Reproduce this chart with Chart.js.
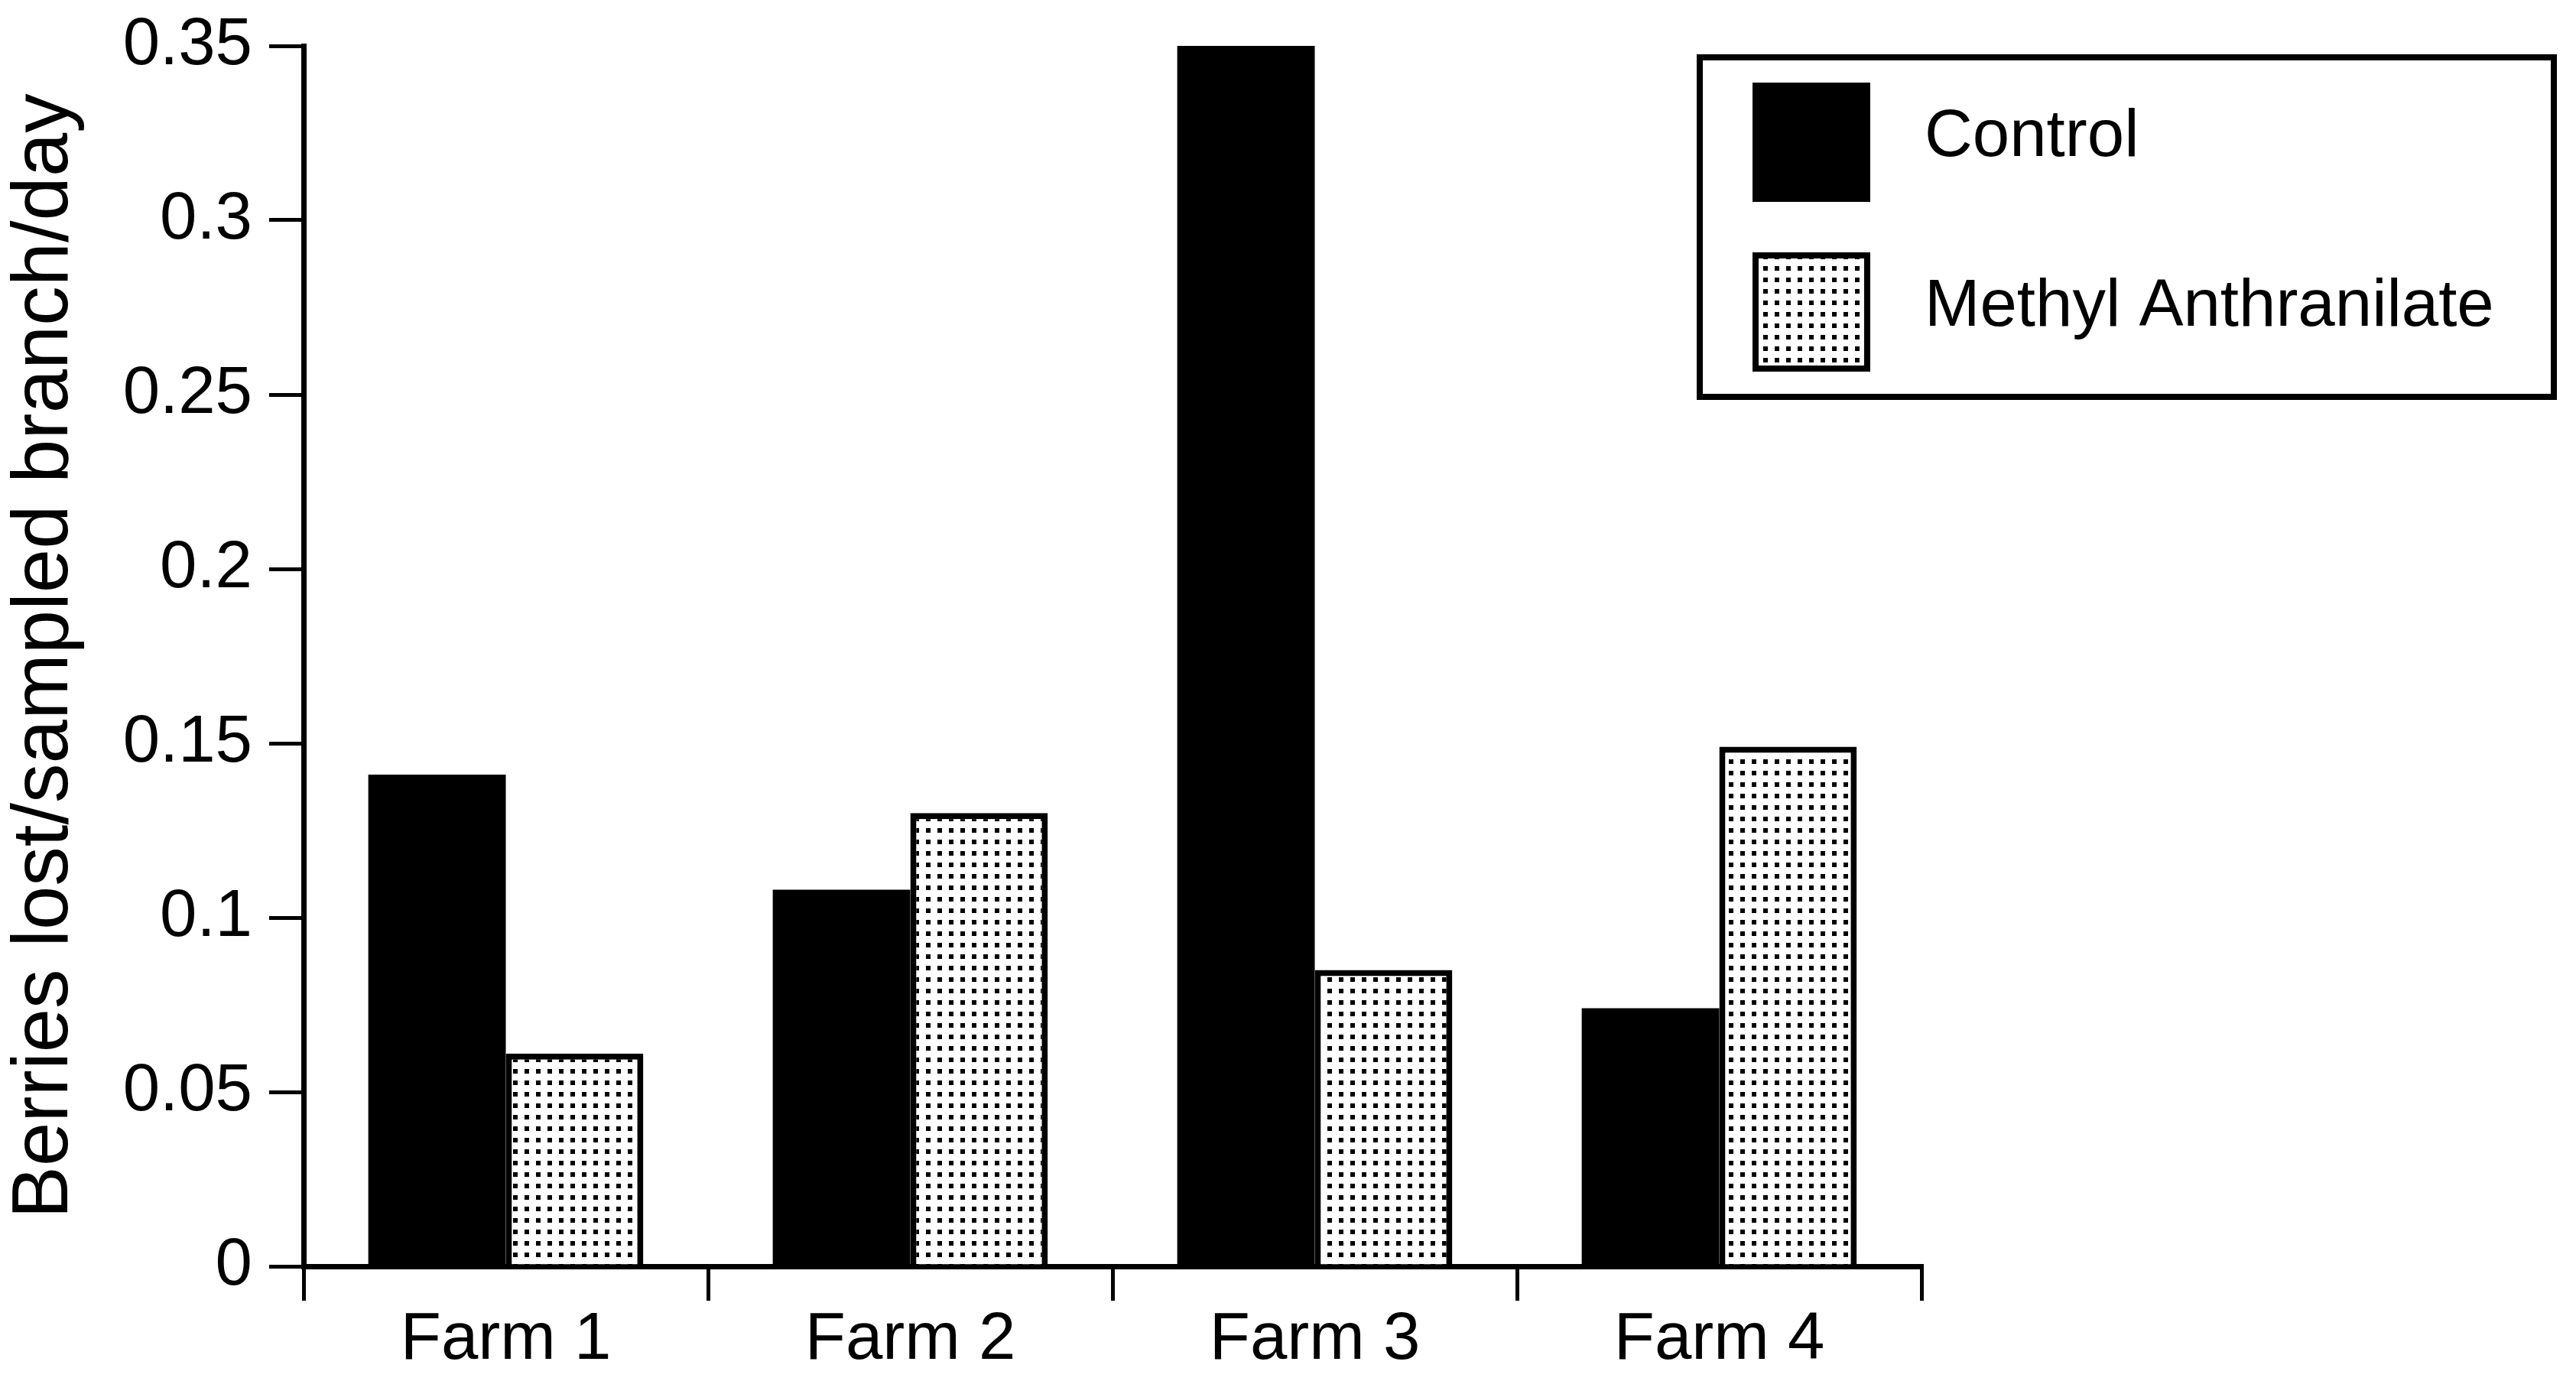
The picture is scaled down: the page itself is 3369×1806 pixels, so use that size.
<!DOCTYPE html>
<html>
<head>
<meta charset="utf-8">
<script src="https://cdn.jsdelivr.net/npm/chart.js@4.4.1/dist/chart.umd.min.js"></script>
<style>
    html, body { margin: 0; padding: 0; background: #fff; overflow: hidden; }
    canvas { display: block; }
</style>
</head>
<body>
<canvas id="chart1" width="3369" height="1806"></canvas>
<script>
var categories = ['Farm 1', 'Farm 2', 'Farm 3', 'Farm 4'];
var seriesNames = ['Control', 'Methyl Anthranilate'];
var controlValues = [0.141, 0.108, 0.350, 0.074];
var methylValues = [0.061, 0.130, 0.085, 0.149];
var yTickLabels = ['0', '0.05', '0.1', '0.15', '0.2', '0.25', '0.3', '0.35'];
var yTitle = 'Berries lost/sampled branch/day';

// dotted fill used for the Methyl Anthranilate bars
function makeDots() {
    var c = document.createElement('canvas');
    c.width = 15;
    c.height = 15;
    var g = c.getContext('2d');
    g.fillStyle = '#fff';
    g.fillRect(0, 0, 15, 15);
    g.fillStyle = '#000';
    g.fillRect(11, 3, 4, 6);
    g.fillRect(0, 3, 2, 6);
    return document.getElementById('chart1').getContext('2d').createPattern(c, 'repeat');
}

var dots = makeDots();

// boxed legend on the upper right
var boxLegend = {
    id: 'boxLegend',
    afterDraw: function(chart) {
        var ctx = chart.ctx;
        var sets = chart.data.datasets;
        ctx.save();
        ctx.strokeStyle = '#000';
        ctx.lineWidth = 8;
        ctx.strokeRect(2223, 75, 1117, 444);

        var rows = [108, 330];
        for (var i = 0; i < sets.length; i++) {
            var y = rows[i];
            ctx.fillStyle = sets[i].backgroundColor;
            ctx.fillRect(2292, y, 154, 156);
            if (sets[i].borderWidth) {
                ctx.lineWidth = sets[i].borderWidth;
                ctx.strokeRect(2296, y + 4, 146, 148);
            }
            ctx.fillStyle = '#000';
            ctx.font = '87px "Liberation Sans", Arial, sans-serif';
            ctx.textBaseline = 'middle';
            ctx.textAlign = 'left';
            ctx.fillText(sets[i].label, 2517, y + 72);
        }
        ctx.restore();
    }
};

Chart.defaults.font.family = '"Liberation Sans", Arial, sans-serif';
Chart.defaults.color = '#000';

var ctx1 = document.getElementById('chart1').getContext('2d');
var chart1 = new Chart(ctx1, {
    type: 'bar',
    data: {
        labels: categories,
        datasets: [{
            label: seriesNames[0],
            data: controlValues,
            backgroundColor: '#000',
            borderWidth: 0
        }, {
            label: seriesNames[1],
            data: methylValues,
            backgroundColor: dots,
            borderColor: '#000',
            borderWidth: 8
        }]
    },
    options: {
        responsive: false,
        animation: false,
        devicePixelRatio: 1,
        categoryPercentage: 0.68,
        barPercentage: 1.0,
        layout: {
            padding: { left: 0, right: 856, top: 60, bottom: 0 }
        },
        plugins: {
            legend: { display: false },
            tooltip: { enabled: false }
        },
        scales: {
            x: {
                afterFit: function(scale) { scale.height = 150; },
                grid: {
                    offset: true,
                    drawOnChartArea: false,
                    tickLength: 45,
                    lineWidth: 5,
                    color: '#000'
                },
                border: { display: true, width: 7, color: '#000' },
                ticks: {
                    padding: 0,
                    color: '#000',
                    font: { size: 87 }
                }
            },
            y: {
                min: 0,
                max: 0.35,
                afterFit: function(scale) {
                    scale.width = 397;
                    scale.paddingTop = 0;
                    scale.paddingBottom = 0;
                },
                grid: {
                    drawOnChartArea: false,
                    tickLength: 45,
                    lineWidth: 5,
                    color: '#000'
                },
                border: { display: true, width: 7, color: '#000' },
                ticks: {
                    stepSize: 0.05,
                    padding: 22,
                    color: '#000',
                    font: { size: 87 },
                    callback: function(value, index) {
                        return yTickLabels[index];
                    }
                },
                title: {
                    display: true,
                    text: yTitle,
                    color: '#000',
                    padding: 0,
                    font: { size: 103, lineHeight: 1.15 }
                }
            }
        }
    },
    plugins: [boxLegend]
});
</script>
</body>
</html>
